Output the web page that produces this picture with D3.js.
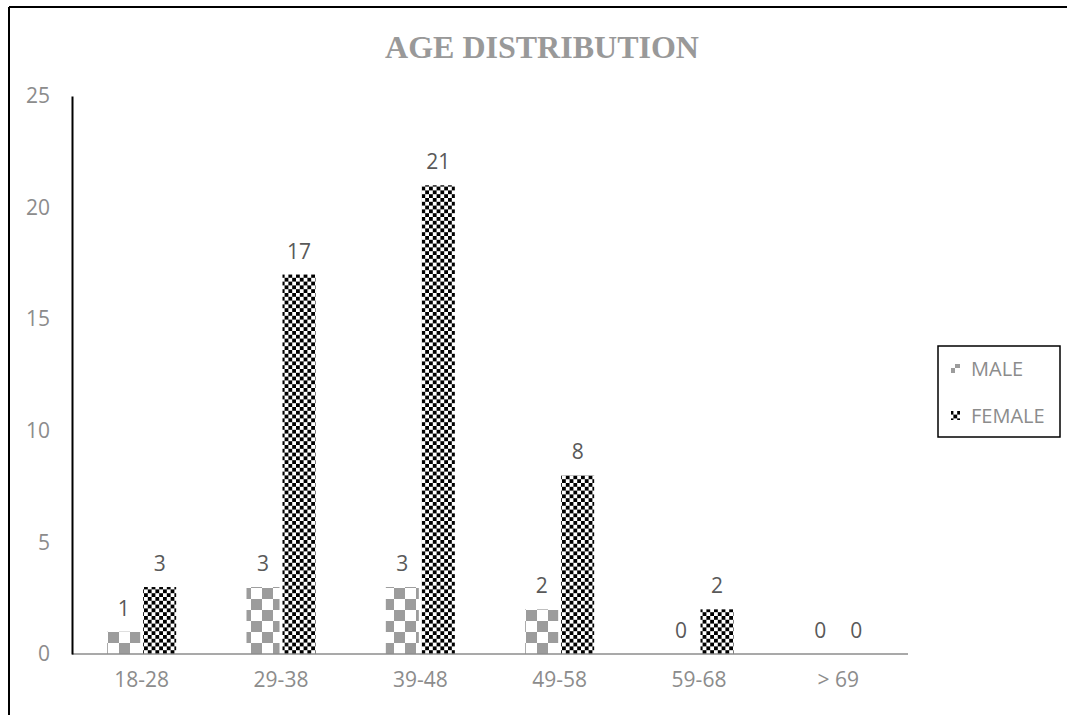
<!DOCTYPE html>
<html>
<head>
<meta charset="utf-8">
<script src="https://cdn.jsdelivr.net/npm/d3@7/dist/d3.min.js"></script>
<style>
html,body{margin:0;padding:0;background:#fff;}
svg{display:block;}
</style>
</head>
<body>
<svg id="chart" width="1067" height="715"></svg>
<script>
const categories = ["18-28", "29-38", "39-48", "49-58", "59-68", "> 69"];
const seriesNames = ["MALE", "FEMALE"];
const maleValues = [1, 3, 3, 2, 0, 0];
const femaleValues = [3, 17, 21, 8, 2, 0];
const yTicks = [0, 5, 10, 15, 20, 25];
const title = "AGE DISTRIBUTION";

const svg = d3.select("#chart");
const W = 1067, H = 715;
const m = {left: 72, right: 1067 - 908, top: 96, bottom: 715 - 654};

// patterns
const defs = svg.append("defs");
const pm = defs.append("pattern").attr("id", "pMale")
  .attr("patternUnits", "userSpaceOnUse").attr("width", 22).attr("height", 22)
  .attr("x", 108).attr("y", 654);
pm.append("rect").attr("width", 22).attr("height", 22).attr("fill", "#fff");
pm.append("rect").attr("x", 0).attr("y", 0).attr("width", 11).attr("height", 11).attr("fill", "#9c9c9c");
pm.append("rect").attr("x", 11).attr("y", 11).attr("width", 11).attr("height", 11).attr("fill", "#9c9c9c");

const pf = defs.append("pattern").attr("id", "pFemale")
  .attr("patternUnits", "userSpaceOnUse").attr("width", 7.6).attr("height", 7.6)
  .attr("x", 144).attr("y", 654);
pf.append("rect").attr("width", 7.6).attr("height", 7.6).attr("fill", "#fff");
pf.append("rect").attr("x", 0).attr("y", 0).attr("width", 3.8).attr("height", 3.8).attr("fill", "#000");
pf.append("rect").attr("x", 3.8).attr("y", 3.8).attr("width", 3.8).attr("height", 3.8).attr("fill", "#000");

// outer border (left & top only visible)
svg.append("line").attr("x1", 9).attr("x2", W).attr("y1", 7).attr("y2", 7).attr("stroke", "#000").attr("stroke-width", 2);
svg.append("line").attr("x1", 9).attr("x2", 9).attr("y1", 7).attr("y2", H).attr("stroke", "#000").attr("stroke-width", 2);

const x0 = d3.scaleBand().domain(categories).range([m.left, W - m.right]);
const y = d3.scaleLinear().domain([0, 25]).range([H - m.bottom, m.top]);

const barW = 33, gap = 3;
const series = [
  {name: "MALE", values: maleValues, fill: "url(#pMale)", off: -gap/2 - barW},
  {name: "FEMALE", values: femaleValues, fill: "url(#pFemale)", off: gap/2}
];

const g = svg.append("g");
series.forEach(s => {
  g.selectAll(null).data(categories).enter().append("rect")
    .attr("x", (c) => x0(c) + x0.bandwidth()/2 + s.off)
    .attr("y", (c, i) => y(s.values[i]))
    .attr("width", barW)
    .attr("height", (c, i) => y(0) - y(s.values[i]))
    .attr("fill", s.fill);
  g.selectAll(null).data(categories).enter().append("text")
    .attr("x", (c) => x0(c) + x0.bandwidth()/2 + s.off + barW/2)
    .attr("y", (c, i) => y(s.values[i]) - 16)
    .attr("text-anchor", "middle")
    .attr("font-family", "Open Sans")
    .attr("font-size", 21)
    .attr("fill", "#595959")
    .text((c, i) => s.values[i]);
});

// x axis
const xAxis = svg.append("g").attr("transform", `translate(0,${y(0)})`)
  .call(d3.axisBottom(x0).tickSize(0).tickPadding(18));
xAxis.select(".domain").attr("stroke", "#8c8c8c").attr("stroke-width", 1.5).attr("d", `M${m.left},0H${W - m.right}`);
xAxis.selectAll("text").attr("font-family", "Open Sans").attr("font-size", 21).attr("fill", "#8c8c8c").attr("dy", "0.71em");

// y axis
const yAxis = svg.append("g").attr("transform", `translate(${m.left},0)`)
  .call(d3.axisLeft(y).tickValues(yTicks).tickSize(0).tickPadding(22));
yAxis.select(".domain").attr("stroke", "#000").attr("stroke-width", 2);
yAxis.selectAll("text").attr("font-family", "Open Sans").attr("font-size", 21).attr("fill", "#8c8c8c").attr("dy", "0.32em");

// title
svg.append("text").attr("x", 542).attr("y", 58).attr("text-anchor", "middle")
  .attr("font-family", "Liberation Serif").attr("font-weight", "bold")
  .attr("font-size", 32).attr("fill", "#999").text(title);

// legend
const lg = svg.append("g");
lg.append("rect").attr("x", 938).attr("y", 346).attr("width", 122).attr("height", 91)
  .attr("fill", "#fff").attr("stroke", "#000").attr("stroke-width", 1.5);
const legendRows = [
  {name: seriesNames[0], fill: "url(#pMale)", cy: 369},
  {name: seriesNames[1], fill: "url(#pFemale)", cy: 416}
];
legendRows.forEach(r => {
  lg.append("rect").attr("x", 951).attr("y", r.cy - 5).attr("width", 9).attr("height", 9).attr("fill", r.fill);
  lg.append("text").attr("x", 971).attr("y", r.cy).attr("dy", "0.35em")
    .attr("font-family", "Open Sans").attr("font-size", 20).attr("fill", "#8c8c8c").text(r.name);
});
</script>
</body>
</html>
